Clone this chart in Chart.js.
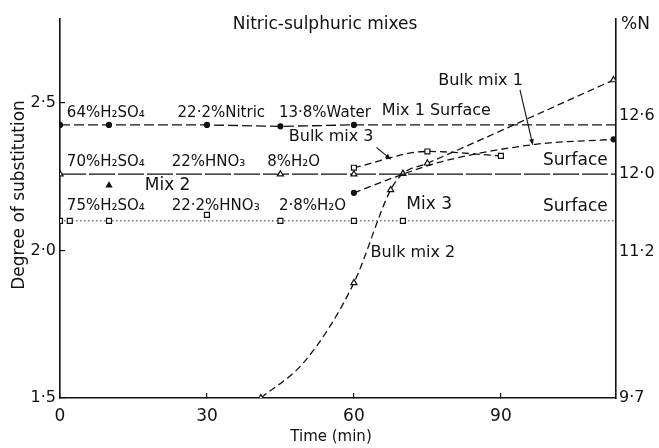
<!DOCTYPE html>
<html><head><meta charset="utf-8">
<script src="https://cdn.jsdelivr.net/npm/chart.js@4.4.1/dist/chart.umd.min.js"></script>
<style>html,body{margin:0;padding:0;background:#fff}#c{display:block}</style>
</head><body>
<canvas id="c" width="659" height="448"></canvas>
<script>
// ---- Axis ticks ----
const xTicks = [0, 30, 60, 90];
const yTicks = [1.5, 2.0, 2.5];
const nTicks = [9.7, 11.2, 12.0, 12.6];

// ---- Series (time in min, degree of substitution) ----
const mix1SurfaceX = [0, 10, 30, 45, 60, 113.5];
const mix1SurfaceY = [2.425, 2.425, 2.425, 2.42, 2.425, 2.425];
const mix2SurfaceX = [0, 45, 60, 113.5];
const mix2SurfaceY = [2.258, 2.258, 2.258, 2.258];
const mix2ExtraX = [10];
const mix2ExtraY = [2.22];
const mix3SurfaceX = [0, 2, 10, 45, 60, 70, 113.5];
const mix3SurfaceY = [2.10, 2.10, 2.10, 2.10, 2.10, 2.10, 2.10];
const mix3ExtraX = [30];
const mix3ExtraY = [2.12];
const bulk1X = [60, 69.5, 77.8, 97, 113];
const bulk1Y = [2.195, 2.255, 2.30, 2.359, 2.376];
const bulk2X = [41, 50, 60, 67.5, 70, 75, 113];
const bulk2Y = [1.5, 1.625, 1.89, 2.205, 2.26, 2.295, 2.577];
const bulk3X = [60, 75, 90];
const bulk3Y = [2.28, 2.335, 2.32];

// ---- In-plot labels (data coordinates) ----
const labelText = ["64%H₂SO₄", "22·2%Nitric", "13·8%Water", "Mix 1 Surface",
  "Bulk mix 3", "70%H₂SO₄", "22%HNO₃", "8%H₂O", "Mix 2", "Surface",
  "75%H₂SO₄", "22·2%HNO₃", "2·8%H₂O", "Mix 3", "Surface", "Bulk mix 1", "Bulk mix 2"];
const labelX = [1.4, 24.0, 44.7, 65.7, 46.7, 1.4, 22.8, 42.3, 17.3, 98.6, 1.4, 22.8, 44.7, 70.7, 98.6, 77.2, 63.4];
const labelY = [2.466, 2.466, 2.466, 2.473, 2.386, 2.299, 2.299, 2.299, 2.221, 2.305, 2.151, 2.151, 2.151, 2.154, 2.148, 2.574, 1.99];
// arrows: [x1, y1, x2, y2]
const arrowBulk1 = [93.9, 2.544, 96.5, 2.358];
const arrowBulk3 = [64.6, 2.349, 67.5, 2.309];

// styles
const FONT = "'DejaVu Sans', 'Noto Sans', sans-serif";
const labelSize = [15, 15, 15, 16, 16, 15, 15, 15, 17, 17, 15, 15, 15, 17, 17, 16, 16];

const toPts = (xs, ys) => xs.map((x, i) => ({x: x, y: ys[i]}));
const fmt = v => Number(v).toFixed(1).replace('.', '·');

function ds(label, xs, ys, o) {
  return Object.assign({
    label: label, data: toPts(xs, ys), borderColor: '#111', backgroundColor: '#111',
    borderWidth: 1.3, pointBorderColor: '#111', pointBorderWidth: 1.2, fill: false,
    tension: 0, showLine: true
  }, o);
}

const textPlugin = {
  id: 'texts',
  afterDatasetsDraw(chart) {
    const {ctx, scales: {x, y}, chartArea} = chart;
    ctx.save();
    ctx.fillStyle = '#111';
    ctx.textBaseline = 'middle';
    ctx.textAlign = 'left';
    labelText.forEach((t, i) => {
      ctx.font = labelSize[i] + 'px ' + FONT;
      ctx.fillText(t, x.getPixelForValue(labelX[i]), y.getPixelForValue(labelY[i]));
    });
    // arrows
    ctx.strokeStyle = '#111';
    ctx.lineWidth = 1.1;
    [arrowBulk1, arrowBulk3].forEach(a => {
      const x1 = x.getPixelForValue(a[0]), y1 = y.getPixelForValue(a[1]);
      const x2 = x.getPixelForValue(a[2]), y2 = y.getPixelForValue(a[3]);
      ctx.beginPath(); ctx.moveTo(x1, y1); ctx.lineTo(x2, y2); ctx.stroke();
      const ang = Math.atan2(y2 - y1, x2 - x1);
      ctx.beginPath();
      ctx.moveTo(x2, y2);
      ctx.lineTo(x2 - 6 * Math.cos(ang - 0.4), y2 - 6 * Math.sin(ang - 0.4));
      ctx.lineTo(x2 - 6 * Math.cos(ang + 0.4), y2 - 6 * Math.sin(ang + 0.4));
      ctx.closePath(); ctx.fill();
    });
    // title & axis titles
    ctx.font = '17px ' + FONT;
    ctx.textAlign = 'center';
    ctx.fillText('Nitric-sulphuric mixes', 325, 25);
    ctx.font = '15px ' + FONT;
    ctx.fillText('Time (min)', 331, 437);
    ctx.font = '17px ' + FONT;
    ctx.textAlign = 'left';
    ctx.fillText('%N', chartArea.right + 5, 25);
    ctx.save();
    ctx.translate(20, 195);
    ctx.rotate(-Math.PI / 2);
    ctx.textAlign = 'center';
    ctx.font = '17px ' + FONT;
    ctx.fillText('Degree of substitution', 0, 0);
    ctx.restore();
    ctx.restore();
  }
};

new Chart(document.getElementById('c'), {
  type: 'line',
  data: {
    datasets: [
      ds('Mix 1 surface', mix1SurfaceX, mix1SurfaceY, {borderDash: [10, 4], pointStyle: 'circle', pointRadius: [2.5, 2.5, 2.5, 2.5, 2.5, 0]}),
      ds('Mix 2 surface', mix2SurfaceX, mix2SurfaceY, {borderDash: [26, 3], pointStyle: 'triangle', pointBackgroundColor: '#fff', pointRadius: [3.5, 3.5, 3.5, 0]}),
      ds('Mix 2 extra', mix2ExtraX, mix2ExtraY, {showLine: false, pointStyle: 'triangle', pointBackgroundColor: '#111', pointRadius: 3}),
      ds('Mix 3 surface', mix3SurfaceX, mix3SurfaceY, {borderDash: [1.5, 2.5], borderWidth: 1, borderColor: '#333', pointStyle: 'rect', pointBackgroundColor: '#fff', pointRadius: [3.5, 3.5, 3.5, 3.5, 3.5, 3.5, 0]}),
      ds('Mix 3 extra', mix3ExtraX, mix3ExtraY, {showLine: false, pointStyle: 'rect', pointBackgroundColor: '#fff', pointRadius: 3.5}),
      ds('Bulk mix 1', bulk1X, bulk1Y, {borderDash: [7, 4], cubicInterpolationMode: 'monotone', pointStyle: 'circle', pointRadius: [2.5, 0, 0, 0, 2.5]}),
      ds('Bulk mix 2', bulk2X, bulk2Y, {borderDash: [7, 4], cubicInterpolationMode: 'monotone', pointStyle: 'triangle', pointBackgroundColor: '#fff', pointRadius: [3.5, 0, 3.5, 3.5, 3.5, 3.5, 3.5]}),
      ds('Bulk mix 3', bulk3X, bulk3Y, {borderDash: [7, 4], cubicInterpolationMode: 'monotone', pointStyle: 'rect', pointBackgroundColor: '#fff', pointRadius: 3.5})
    ]
  },
  options: {
    responsive: false, animation: false,
    layout: {padding: {top: 15, left: 0, right: 0, bottom: 0}},
    plugins: {legend: {display: false}, tooltip: {enabled: false}},
    scales: {
      x: {
        type: 'linear', position: 'bottom', min: 0, max: 113.5,
        afterBuildTicks: s => { s.ticks = xTicks.map(v => ({value: v})); },
        afterFit: s => { s.height = 50; },
        ticks: {color: '#111', font: {family: FONT, size: 17}, padding: 13, callback: v => String(v), maxRotation: 0},
        grid: {drawOnChartArea: false, tickLength: -5, color: '#111', lineWidth: 1.2},
        border: {color: '#111', width: 1.6}
      },
      y: {
        type: 'linear', position: 'left', min: 1.5, max: 2.785,
        afterBuildTicks: s => { s.ticks = yTicks.map(v => ({value: v})); },
        afterFit: s => { s.width = 60; },
        ticks: {color: '#111', font: {family: FONT, size: 16}, padding: 9, callback: v => fmt(v)},
        grid: {drawOnChartArea: false, tickLength: -5, color: '#111', lineWidth: 1.2},
        border: {color: '#111', width: 1.6}
      },
      y2: {
        type: 'linear', position: 'right', min: 9.7, max: 13.596,
        afterBuildTicks: s => { s.ticks = nTicks.map(v => ({value: v})); },
        afterFit: s => { s.width = 43; },
        ticks: {color: '#111', font: {family: FONT, size: 16}, padding: 3, callback: v => fmt(v)},
        grid: {drawOnChartArea: false, drawTicks: false},
        border: {color: '#111', width: 1.6}
      }
    }
  },
  plugins: [textPlugin]
});
</script>
</body></html>
